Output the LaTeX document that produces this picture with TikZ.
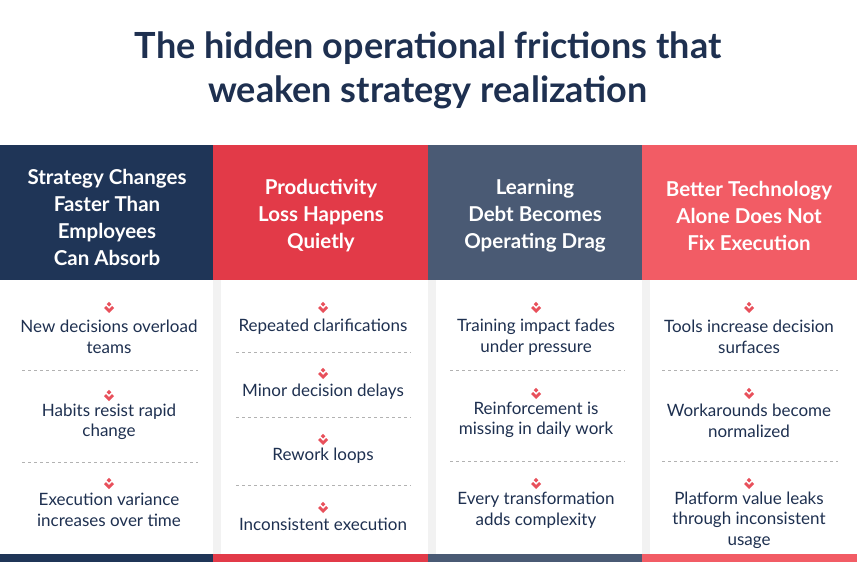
\documentclass[tikz,border=0pt]{standalone}
\usepackage{fontspec}
\setmainfont{Lato}
\definecolor{navy}{HTML}{1F3557}
\definecolor{cred}{HTML}{E23A48}
\definecolor{slate}{HTML}{4A5A74}
\definecolor{coral}{HTML}{F25C65}
\definecolor{txt}{HTML}{1E3050}
\definecolor{icon}{HTML}{E8505B}
\tikzset{
 hdr/.style={align=center,text=white,font=\fontsize{20.5}{27}\selectfont\bfseries},
 itm/.style={align=center,text=txt,font=\fontsize{17}{20.5}\selectfont},
 sep/.style={draw=gray!60,dashed,line width=0.7pt},
 ic/.pic={\fill[icon] (0,5)--(-5,0)--(-3,-2)--(0,1)--(3,-2)--(5,0)--cycle; \fill[icon] (0,-1.5)--(-2.3,-3.8)--(0,-6.1)--(2.3,-3.8)--cycle;}
}
\begin{document}
\begin{tikzpicture}[x=1pt,y=-1pt]
\useasboundingbox (0,0) rectangle (857,572);
\fill[white] (0,0) rectangle (857,572);
\node[font=\fontsize{36}{44}\selectfont\bfseries,text=txt,align=center] (title) at (428,70) {The hidden operational frictions that\\weaken strategy realization};
\foreach \x in {213,428,642}{\fill[gray!10] (\x,280) rectangle (\x+8,555);}
\fill[navy] (0,145) rectangle (213,280);
\fill[cred] (213,145) rectangle (428,280);
\fill[slate] (428,145) rectangle (642,280);
\fill[coral] (642,145) rectangle (857,280);
\fill[navy] (0,554) rectangle (213,562);
\fill[cred] (213,554) rectangle (428,562);
\fill[slate] (428,554) rectangle (642,562);
\fill[coral] (642,554) rectangle (857,562);
\node[hdr] (h1) at (107,217) {Strategy Changes\\Faster Than\\Employees\\Can Absorb};
\node[hdr] (h2) at (321,216) {Productivity\\Loss Happens\\Quietly};
\node[hdr] (h3) at (535,216) {Learning\\Debt Becomes\\Operating Drag};
\node[hdr] (h4) at (749,216) {Better Technology\\Alone Does Not\\Fix Execution};
\pic at (109,308) {ic}; \pic at (109,396) {ic}; \pic at (109,484) {ic};
\node[itm] (a1) at (109,337) {New decisions overload\\teams};
\node[itm] (a2) at (109,422) {Habits resist rapid\\change};
\node[itm] (a3) at (109,510) {Execution variance\\increases over time};
\draw[sep] (22,370)--(198,370); \draw[sep] (22,462)--(198,462);
\pic at (323,308) {ic}; \pic at (323,374) {ic}; \pic at (323,440) {ic}; \pic at (323,508) {ic};
\node[itm] (b1) at (323,327) {Repeated clarifications};
\node[itm] (b2) at (323,392) {Minor decision delays};
\node[itm] (b3) at (323,456) {Rework loops};
\node[itm] (b4) at (323,524) {Inconsistent execution};
\draw[sep] (236,352)--(411,352); \draw[sep] (236,417)--(411,417); \draw[sep] (236,485)--(411,485);
\pic at (536,308) {ic}; \pic at (536,394) {ic}; \pic at (536,484) {ic};
\node[itm] (c1) at (536,337) {Training impact fades\\under pressure};
\node[itm] (c2) at (536,420) {Reinforcement is\\missing in daily work};
\node[itm] (c3) at (536,510) {Every transformation\\adds complexity};
\draw[sep] (450,370)--(625,370); \draw[sep] (450,461)--(625,461);
\pic at (749,308) {ic}; \pic at (749,394) {ic}; \pic at (749,484) {ic};
\node[itm] (d1) at (749,337) {Tools increase decision\\surfaces};
\node[itm] (d2) at (749,421) {Workarounds become\\normalized};
\node[itm] (d3) at (749,520) {Platform value leaks\\through inconsistent\\usage};
\draw[sep] (662,370)--(838,370); \draw[sep] (662,461)--(838,461);
\end{tikzpicture}
\end{document}
